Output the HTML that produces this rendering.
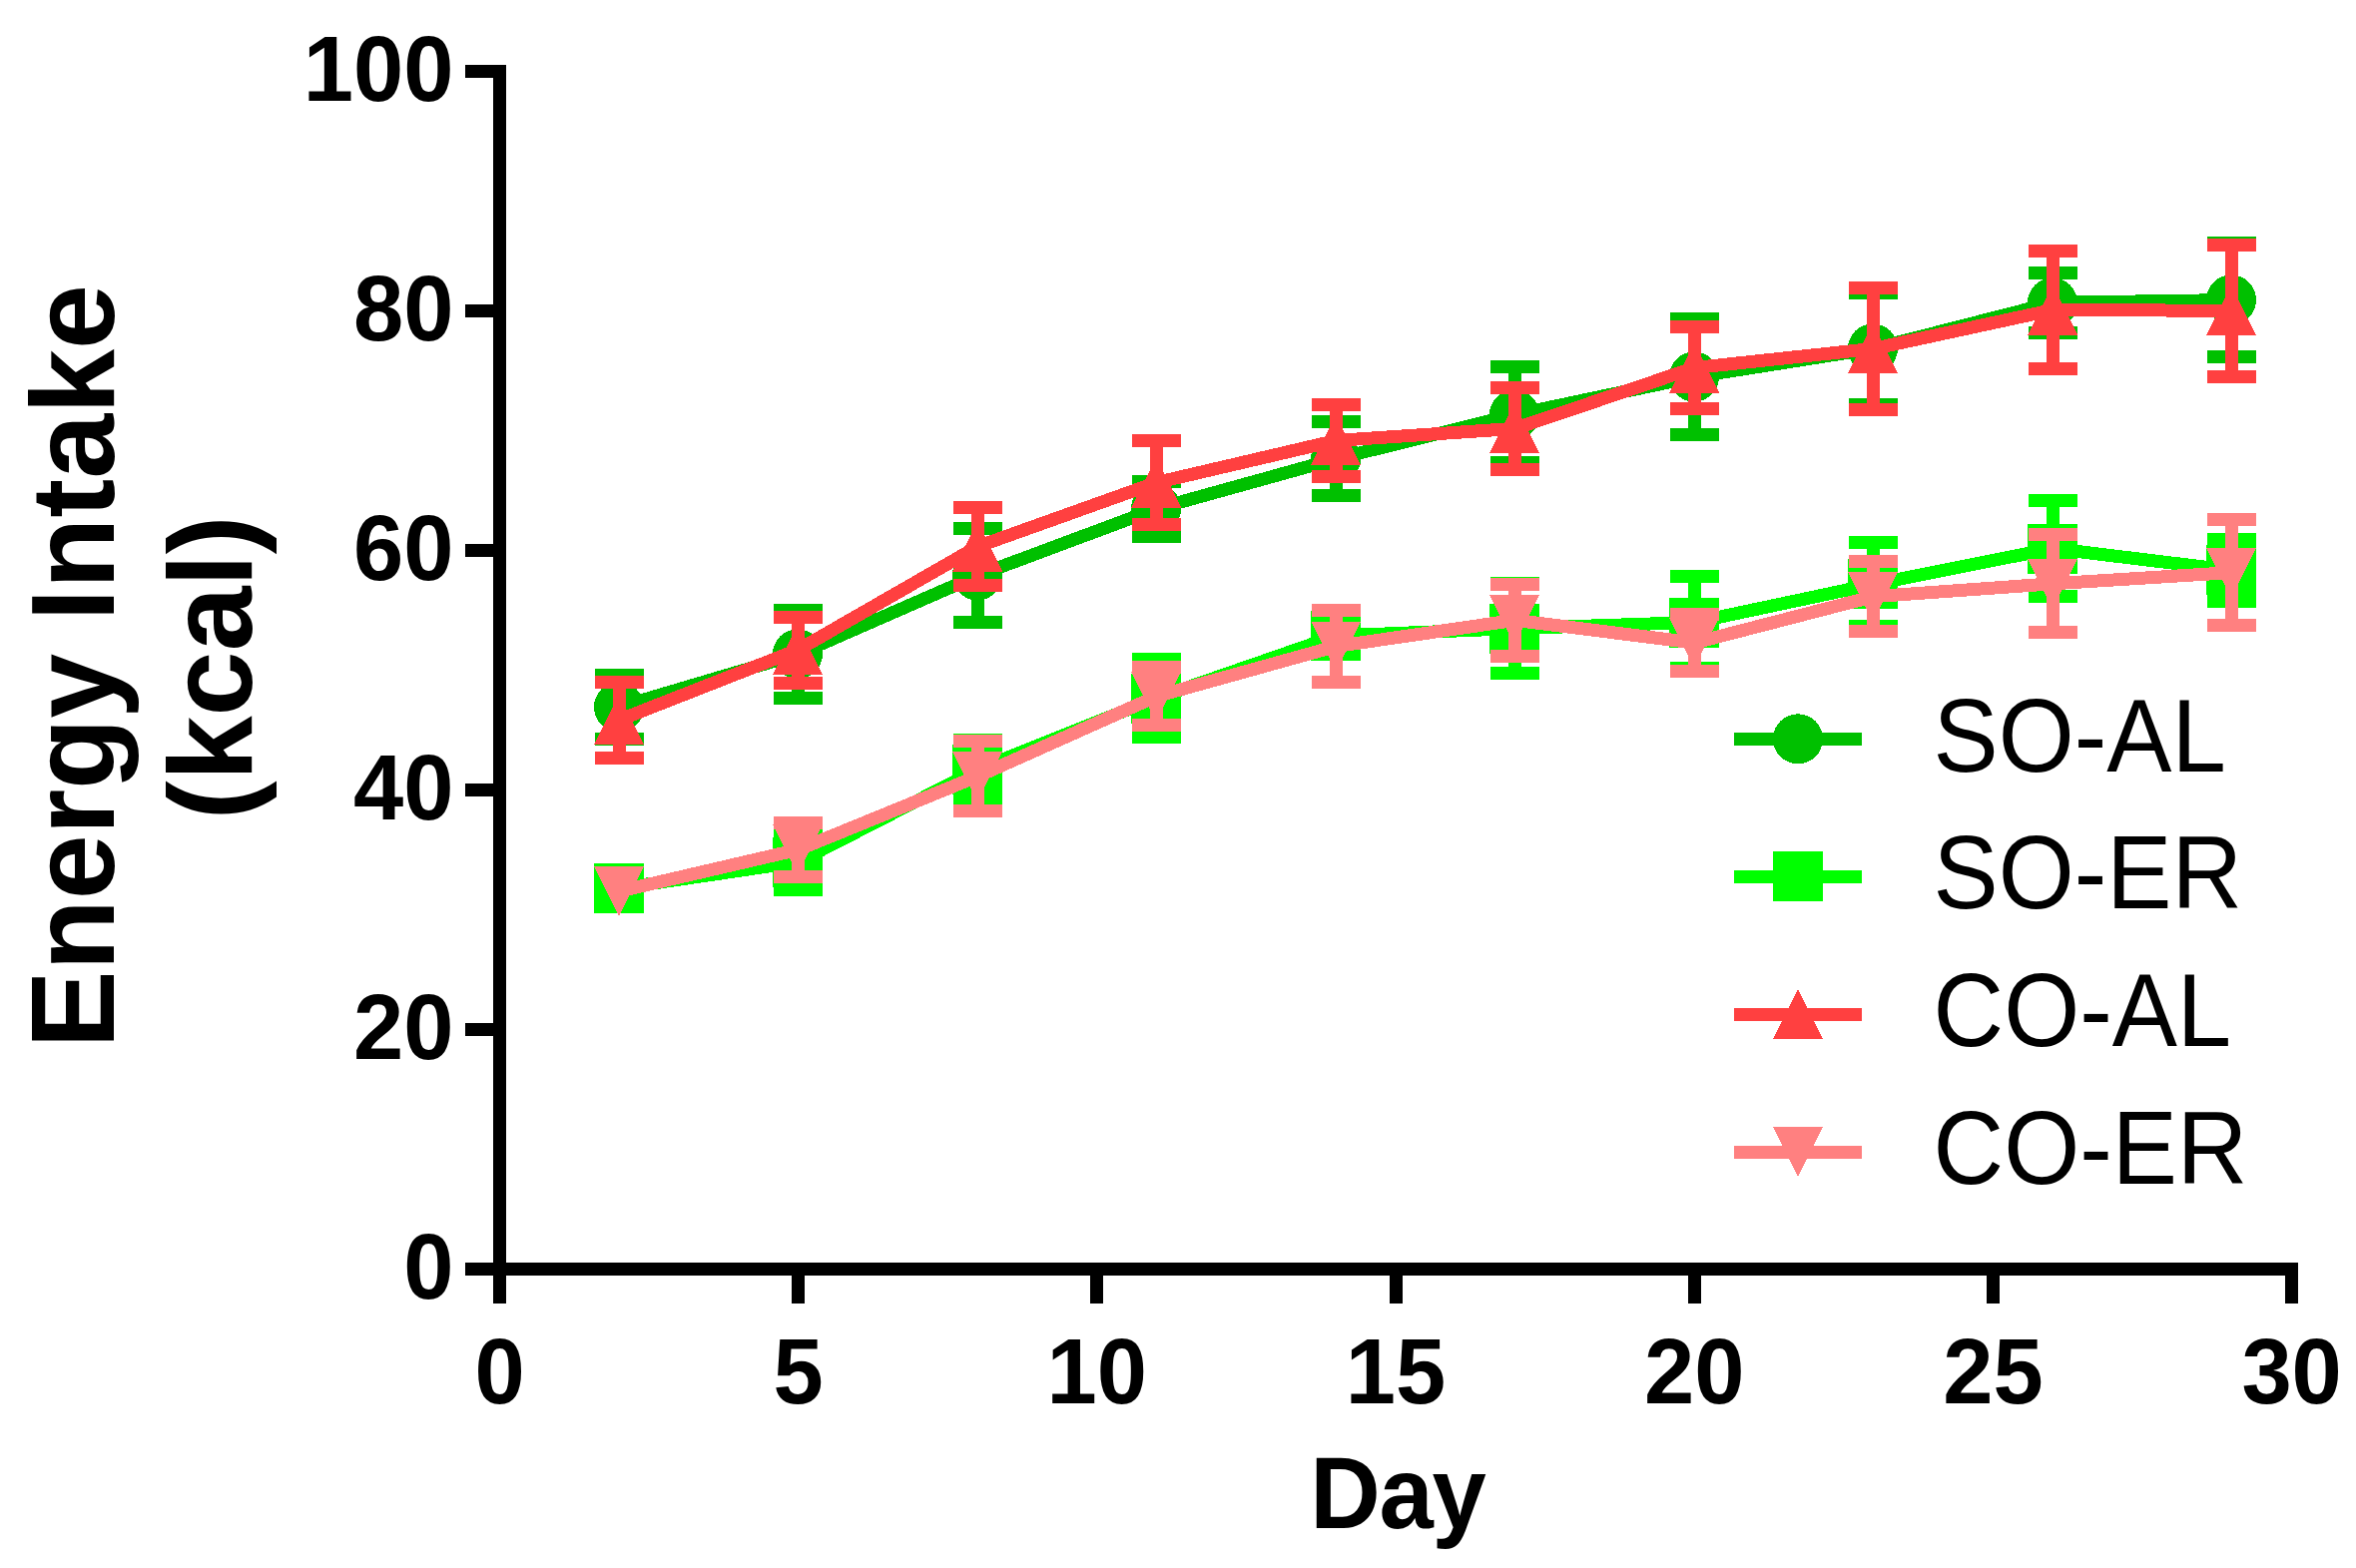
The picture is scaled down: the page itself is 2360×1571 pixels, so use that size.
<!DOCTYPE html>
<html lang="en"><head><meta charset="utf-8"><title>Energy Intake (kcal) by Day</title>
<style>
html,body{margin:0;padding:0;background:#fff;}
body{width:2360px;height:1571px;overflow:hidden;}
svg{display:block;}
text{font-family:"Liberation Sans",Arial,Helvetica,sans-serif;fill:#000;}
.b{font-weight:bold;}
.tk{font-size:90.3px;font-weight:bold;}
.ttl{font-size:116.7px;font-weight:bold;}
.xl{font-size:97.7px;font-weight:bold;letter-spacing:-1.3px;}
.lg{font-size:97.7px;font-weight:normal;}
</style></head><body>
<svg width="2360" height="1571" viewBox="0 0 2360 1571">
<rect x="0" y="0" width="2360" height="1571" fill="#ffffff"/>
<g shape-rendering="crispEdges">
<g id="SO-AL">
<rect x="614.0" y="676.5" width="13" height="63.6" fill="#00C000"/>
<rect x="596.0" y="670.0" width="49" height="13" fill="#00C000"/>
<rect x="596.0" y="733.6" width="49" height="13" fill="#00C000"/>
<rect x="793.0" y="611.3" width="13" height="88.0" fill="#00C000"/>
<rect x="775.0" y="604.8" width="49" height="13" fill="#00C000"/>
<rect x="775.0" y="692.8" width="49" height="13" fill="#00C000"/>
<rect x="973.0" y="529.4" width="13" height="94.2" fill="#00C000"/>
<rect x="955.0" y="522.9" width="49" height="13" fill="#00C000"/>
<rect x="955.0" y="617.1" width="49" height="13" fill="#00C000"/>
<rect x="1152.0" y="482.0" width="13" height="55.4" fill="#00C000"/>
<rect x="1134.0" y="475.5" width="49" height="13" fill="#00C000"/>
<rect x="1134.0" y="530.9" width="49" height="13" fill="#00C000"/>
<rect x="1332.0" y="422.8" width="13" height="73.8" fill="#00C000"/>
<rect x="1314.0" y="416.3" width="49" height="13" fill="#00C000"/>
<rect x="1314.0" y="490.1" width="49" height="13" fill="#00C000"/>
<rect x="1511.0" y="367.3" width="13" height="96.4" fill="#00C000"/>
<rect x="1493.0" y="360.8" width="49" height="13" fill="#00C000"/>
<rect x="1493.0" y="457.2" width="49" height="13" fill="#00C000"/>
<rect x="1691.0" y="319.5" width="13" height="116.0" fill="#00C000"/>
<rect x="1673.0" y="313.0" width="49" height="13" fill="#00C000"/>
<rect x="1673.0" y="429.0" width="49" height="13" fill="#00C000"/>
<rect x="1870.0" y="293.0" width="13" height="112.6" fill="#00C000"/>
<rect x="1852.0" y="286.5" width="49" height="13" fill="#00C000"/>
<rect x="1852.0" y="399.1" width="49" height="13" fill="#00C000"/>
<rect x="2050.0" y="273.4" width="13" height="59.8" fill="#00C000"/>
<rect x="2032.0" y="266.9" width="49" height="13" fill="#00C000"/>
<rect x="2032.0" y="326.7" width="49" height="13" fill="#00C000"/>
<rect x="2229.0" y="243.5" width="13" height="114.0" fill="#00C000"/>
<rect x="2211.0" y="237.0" width="49" height="13" fill="#00C000"/>
<rect x="2211.0" y="351.0" width="49" height="13" fill="#00C000"/>
<polyline points="620.5,708.3 799.5,655.3 979.5,576.5 1158.5,509.7 1338.5,459.7 1517.5,415.5 1697.5,377.5 1876.5,349.3 2056.5,303.3 2235.5,300.5" fill="none" stroke="#00C000" stroke-width="13" stroke-linejoin="round" stroke-linecap="butt"/>
<circle cx="620.0" cy="708.3" r="25" fill="#00C000"/>
<circle cx="799.0" cy="655.3" r="25" fill="#00C000"/>
<circle cx="979.0" cy="576.5" r="25" fill="#00C000"/>
<circle cx="1158.0" cy="509.7" r="25" fill="#00C000"/>
<circle cx="1338.0" cy="459.7" r="25" fill="#00C000"/>
<circle cx="1517.0" cy="415.5" r="25" fill="#00C000"/>
<circle cx="1697.0" cy="377.5" r="25" fill="#00C000"/>
<circle cx="1876.0" cy="349.3" r="25" fill="#00C000"/>
<circle cx="2056.0" cy="303.3" r="25" fill="#00C000"/>
<circle cx="2235.0" cy="300.5" r="25" fill="#00C000"/>
</g>
<g id="SO-ER">
<rect x="793.0" y="836.0" width="13" height="55.2" fill="#00FF00"/>
<rect x="775.0" y="829.5" width="49" height="13" fill="#00FF00"/>
<rect x="775.0" y="884.7" width="49" height="13" fill="#00FF00"/>
<rect x="973.0" y="741.4" width="13" height="59.2" fill="#00FF00"/>
<rect x="955.0" y="734.9" width="49" height="13" fill="#00FF00"/>
<rect x="955.0" y="794.1" width="49" height="13" fill="#00FF00"/>
<rect x="1152.0" y="660.5" width="13" height="78.0" fill="#00FF00"/>
<rect x="1134.0" y="654.0" width="49" height="13" fill="#00FF00"/>
<rect x="1134.0" y="732.0" width="49" height="13" fill="#00FF00"/>
<rect x="1332.0" y="619.0" width="13" height="36.0" fill="#00FF00"/>
<rect x="1314.0" y="612.5" width="49" height="13" fill="#00FF00"/>
<rect x="1314.0" y="648.5" width="49" height="13" fill="#00FF00"/>
<rect x="1511.0" y="584.6" width="13" height="90.0" fill="#00FF00"/>
<rect x="1493.0" y="578.1" width="49" height="13" fill="#00FF00"/>
<rect x="1493.0" y="668.1" width="49" height="13" fill="#00FF00"/>
<rect x="1691.0" y="577.4" width="13" height="92.2" fill="#00FF00"/>
<rect x="1673.0" y="570.9" width="49" height="13" fill="#00FF00"/>
<rect x="1673.0" y="663.1" width="49" height="13" fill="#00FF00"/>
<rect x="1870.0" y="543.3" width="13" height="84.2" fill="#00FF00"/>
<rect x="1852.0" y="536.8" width="49" height="13" fill="#00FF00"/>
<rect x="1852.0" y="621.0" width="49" height="13" fill="#00FF00"/>
<rect x="2050.0" y="501.5" width="13" height="96.0" fill="#00FF00"/>
<rect x="2032.0" y="495.0" width="49" height="13" fill="#00FF00"/>
<rect x="2032.0" y="591.0" width="49" height="13" fill="#00FF00"/>
<rect x="2229.0" y="540.4" width="13" height="62.0" fill="#00FF00"/>
<rect x="2211.0" y="533.9" width="49" height="13" fill="#00FF00"/>
<rect x="2211.0" y="595.9" width="49" height="13" fill="#00FF00"/>
<polyline points="620.5,890.0 799.5,863.6 979.5,771.0 1158.5,699.5 1338.5,637.0 1517.5,629.6 1697.5,623.5 1876.5,585.4 2056.5,549.5 2235.5,571.4" fill="none" stroke="#00FF00" stroke-width="13" stroke-linejoin="round" stroke-linecap="butt"/>
<rect x="595.0" y="865.0" width="50" height="50" fill="#00FF00"/>
<rect x="774.0" y="838.6" width="50" height="50" fill="#00FF00"/>
<rect x="954.0" y="746.0" width="50" height="50" fill="#00FF00"/>
<rect x="1133.0" y="674.5" width="50" height="50" fill="#00FF00"/>
<rect x="1313.0" y="612.0" width="50" height="50" fill="#00FF00"/>
<rect x="1492.0" y="604.6" width="50" height="50" fill="#00FF00"/>
<rect x="1672.0" y="598.5" width="50" height="50" fill="#00FF00"/>
<rect x="1851.0" y="560.4" width="50" height="50" fill="#00FF00"/>
<rect x="2031.0" y="524.5" width="50" height="50" fill="#00FF00"/>
<rect x="2210.0" y="546.4" width="50" height="50" fill="#00FF00"/>
</g>
<g id="CO-AL">
<rect x="614.0" y="683.3" width="13" height="75.8" fill="#FF4040"/>
<rect x="596.0" y="676.8" width="49" height="13" fill="#FF4040"/>
<rect x="596.0" y="752.6" width="49" height="13" fill="#FF4040"/>
<rect x="793.0" y="618.0" width="13" height="66.0" fill="#FF4040"/>
<rect x="775.0" y="611.5" width="49" height="13" fill="#FF4040"/>
<rect x="775.0" y="677.5" width="49" height="13" fill="#FF4040"/>
<rect x="973.0" y="508.5" width="13" height="78.0" fill="#FF4040"/>
<rect x="955.0" y="502.0" width="49" height="13" fill="#FF4040"/>
<rect x="955.0" y="580.0" width="49" height="13" fill="#FF4040"/>
<rect x="1152.0" y="441.5" width="13" height="84.0" fill="#FF4040"/>
<rect x="1134.0" y="435.0" width="49" height="13" fill="#FF4040"/>
<rect x="1134.0" y="519.0" width="49" height="13" fill="#FF4040"/>
<rect x="1332.0" y="405.4" width="13" height="72.0" fill="#FF4040"/>
<rect x="1314.0" y="398.9" width="49" height="13" fill="#FF4040"/>
<rect x="1314.0" y="470.9" width="49" height="13" fill="#FF4040"/>
<rect x="1511.0" y="388.4" width="13" height="82.0" fill="#FF4040"/>
<rect x="1493.0" y="381.9" width="49" height="13" fill="#FF4040"/>
<rect x="1493.0" y="463.9" width="49" height="13" fill="#FF4040"/>
<rect x="1691.0" y="327.6" width="13" height="81.8" fill="#FF4040"/>
<rect x="1673.0" y="321.1" width="49" height="13" fill="#FF4040"/>
<rect x="1673.0" y="402.9" width="49" height="13" fill="#FF4040"/>
<rect x="1870.0" y="288.4" width="13" height="122.0" fill="#FF4040"/>
<rect x="1852.0" y="281.9" width="49" height="13" fill="#FF4040"/>
<rect x="1852.0" y="403.9" width="49" height="13" fill="#FF4040"/>
<rect x="2050.0" y="251.5" width="13" height="118.0" fill="#FF4040"/>
<rect x="2032.0" y="245.0" width="49" height="13" fill="#FF4040"/>
<rect x="2032.0" y="363.0" width="49" height="13" fill="#FF4040"/>
<rect x="2229.0" y="245.2" width="13" height="132.2" fill="#FF4040"/>
<rect x="2211.0" y="238.7" width="49" height="13" fill="#FF4040"/>
<rect x="2211.0" y="370.9" width="49" height="13" fill="#FF4040"/>
<polyline points="620.5,721.2 799.5,651.0 979.5,547.5 1158.5,483.5 1338.5,441.4 1517.5,429.4 1697.5,368.5 1876.5,349.4 2056.5,310.5 2235.5,311.3" fill="none" stroke="#FF4040" stroke-width="13" stroke-linejoin="round" stroke-linecap="butt"/>
<polygon points="620.0,696.2 645.0,746.2 595.0,746.2" fill="#FF4040"/>
<polygon points="799.0,626.0 824.0,676.0 774.0,676.0" fill="#FF4040"/>
<polygon points="979.0,522.5 1004.0,572.5 954.0,572.5" fill="#FF4040"/>
<polygon points="1158.0,458.5 1183.0,508.5 1133.0,508.5" fill="#FF4040"/>
<polygon points="1338.0,416.4 1363.0,466.4 1313.0,466.4" fill="#FF4040"/>
<polygon points="1517.0,404.4 1542.0,454.4 1492.0,454.4" fill="#FF4040"/>
<polygon points="1697.0,343.5 1722.0,393.5 1672.0,393.5" fill="#FF4040"/>
<polygon points="1876.0,324.4 1901.0,374.4 1851.0,374.4" fill="#FF4040"/>
<polygon points="2056.0,285.5 2081.0,335.5 2031.0,335.5" fill="#FF4040"/>
<polygon points="2235.0,286.3 2260.0,336.3 2210.0,336.3" fill="#FF4040"/>
</g>
<g id="CO-ER">
<rect x="793.0" y="824.4" width="13" height="53.8" fill="#FF8080"/>
<rect x="775.0" y="817.9" width="49" height="13" fill="#FF8080"/>
<rect x="775.0" y="871.7" width="49" height="13" fill="#FF8080"/>
<rect x="973.0" y="742.7" width="13" height="70.0" fill="#FF8080"/>
<rect x="955.0" y="736.2" width="49" height="13" fill="#FF8080"/>
<rect x="955.0" y="806.2" width="49" height="13" fill="#FF8080"/>
<rect x="1152.0" y="668.6" width="13" height="58.0" fill="#FF8080"/>
<rect x="1134.0" y="662.1" width="49" height="13" fill="#FF8080"/>
<rect x="1134.0" y="720.1" width="49" height="13" fill="#FF8080"/>
<rect x="1332.0" y="611.5" width="13" height="72.0" fill="#FF8080"/>
<rect x="1314.0" y="605.0" width="49" height="13" fill="#FF8080"/>
<rect x="1314.0" y="677.0" width="49" height="13" fill="#FF8080"/>
<rect x="1511.0" y="585.4" width="13" height="72.1" fill="#FF8080"/>
<rect x="1493.0" y="578.9" width="49" height="13" fill="#FF8080"/>
<rect x="1493.0" y="650.9" width="49" height="13" fill="#FF8080"/>
<rect x="1691.0" y="615.2" width="13" height="57.6" fill="#FF8080"/>
<rect x="1673.0" y="608.7" width="49" height="13" fill="#FF8080"/>
<rect x="1673.0" y="666.3" width="49" height="13" fill="#FF8080"/>
<rect x="1870.0" y="562.7" width="13" height="70.0" fill="#FF8080"/>
<rect x="1852.0" y="556.2" width="49" height="13" fill="#FF8080"/>
<rect x="1852.0" y="626.2" width="49" height="13" fill="#FF8080"/>
<rect x="2050.0" y="535.8" width="13" height="98.0" fill="#FF8080"/>
<rect x="2032.0" y="529.3" width="49" height="13" fill="#FF8080"/>
<rect x="2032.0" y="627.3" width="49" height="13" fill="#FF8080"/>
<rect x="2229.0" y="520.6" width="13" height="106.0" fill="#FF8080"/>
<rect x="2211.0" y="514.1" width="49" height="13" fill="#FF8080"/>
<rect x="2211.0" y="620.1" width="49" height="13" fill="#FF8080"/>
<polyline points="620.5,892.9 799.5,851.3 979.5,777.7 1158.5,697.6 1338.5,647.5 1517.5,621.4 1697.5,644.0 1876.5,597.7 2056.5,584.8 2235.5,573.6" fill="none" stroke="#FF8080" stroke-width="13" stroke-linejoin="round" stroke-linecap="butt"/>
<polygon points="595.0,867.9 645.0,867.9 620.0,917.9" fill="#FF8080"/>
<polygon points="774.0,826.3 824.0,826.3 799.0,876.3" fill="#FF8080"/>
<polygon points="954.0,752.7 1004.0,752.7 979.0,802.7" fill="#FF8080"/>
<polygon points="1133.0,672.6 1183.0,672.6 1158.0,722.6" fill="#FF8080"/>
<polygon points="1313.0,622.5 1363.0,622.5 1338.0,672.5" fill="#FF8080"/>
<polygon points="1492.0,596.4 1542.0,596.4 1517.0,646.4" fill="#FF8080"/>
<polygon points="1672.0,619.0 1722.0,619.0 1697.0,669.0" fill="#FF8080"/>
<polygon points="1851.0,572.7 1901.0,572.7 1876.0,622.7" fill="#FF8080"/>
<polygon points="2031.0,559.8 2081.0,559.8 2056.0,609.8" fill="#FF8080"/>
<polygon points="2210.0,548.6 2260.0,548.6 2235.0,598.6" fill="#FF8080"/>
</g>
</g>
<g fill="#000" shape-rendering="crispEdges">
<rect x="494" y="65" width="13" height="1241"/>
<rect x="466" y="1265" width="1836" height="13"/>
<rect x="466" y="1025.0" width="28" height="13"/>
<rect x="466" y="785.0" width="28" height="13"/>
<rect x="466" y="545.0" width="28" height="13"/>
<rect x="466" y="305.0" width="28" height="13"/>
<rect x="466" y="65.0" width="28" height="13"/>
<rect x="793.2" y="1278" width="13" height="28"/>
<rect x="1092.3" y="1278" width="13" height="28"/>
<rect x="1391.5" y="1278" width="13" height="28"/>
<rect x="1690.7" y="1278" width="13" height="28"/>
<rect x="1989.9" y="1278" width="13" height="28"/>
<rect x="2289.1" y="1278" width="13" height="28"/>
</g>
<text class="tk" text-anchor="end" transform="translate(454.5,1301.3) scale(1,1.03)">0</text>
<text class="tk" text-anchor="end" transform="translate(454.5,1061.3) scale(1,1.03)">20</text>
<text class="tk" text-anchor="end" transform="translate(454.5,821.3) scale(1,1.03)">40</text>
<text class="tk" text-anchor="end" transform="translate(454.5,581.3) scale(1,1.03)">60</text>
<text class="tk" text-anchor="end" transform="translate(454.5,341.3) scale(1,1.03)">80</text>
<text class="tk" text-anchor="end" transform="translate(454.5,101.3) scale(1,1.03)">100</text>
<text class="tk" text-anchor="middle" transform="translate(500.5,1405.8) scale(1,1.03)">0</text>
<text class="tk" text-anchor="middle" transform="translate(799.7,1405.8) scale(1,1.03)">5</text>
<text class="tk" text-anchor="middle" transform="translate(1098.8,1405.8) scale(1,1.03)">10</text>
<text class="tk" text-anchor="middle" transform="translate(1398.0,1405.8) scale(1,1.03)">15</text>
<text class="tk" text-anchor="middle" transform="translate(1697.2,1405.8) scale(1,1.03)">20</text>
<text class="tk" text-anchor="middle" transform="translate(1996.4,1405.8) scale(1,1.03)">25</text>
<text class="tk" text-anchor="middle" transform="translate(2295.6,1405.8) scale(1,1.03)">30</text>
<text class="xl" text-anchor="start" transform="translate(1312.3,1530.7) scale(1,1.035)">Day</text>
<text class="ttl" text-anchor="middle" transform="translate(113.8,667.7) rotate(-90) scale(1,1.012)">Energy Intake</text>
<text class="ttl" text-anchor="middle" transform="translate(252.1,668.8) rotate(-90) scale(1,1.012)">(kcal)</text>
<g shape-rendering="crispEdges">
<rect x="1737" y="733.8" width="128" height="13" fill="#00C000"/>
<circle cx="1801.0" cy="740.3" r="25" fill="#00C000"/>
<rect x="1737" y="871.8" width="128" height="13" fill="#00FF00"/>
<rect x="1776.0" y="853.3" width="50" height="50" fill="#00FF00"/>
<rect x="1737" y="1009.8" width="128" height="13" fill="#FF4040"/>
<polygon points="1801.0,990.7 1826.0,1040.7 1776.0,1040.7" fill="#FF4040"/>
<rect x="1737" y="1148.1" width="128" height="13" fill="#FF8080"/>
<polygon points="1776.0,1129.0 1826.0,1129.0 1801.0,1179.0" fill="#FF8080"/>
</g>
<text class="lg" text-anchor="start" transform="translate(1936.6,772.6) scale(1,1.056)">SO-AL</text>
<text class="lg" text-anchor="start" transform="translate(1936.6,910.4) scale(1,1.056)">SO-ER</text>
<text class="lg" text-anchor="start" transform="translate(1936.6,1048.1) scale(1,1.056)">CO-AL</text>
<text class="lg" text-anchor="start" transform="translate(1936.6,1185.8) scale(1,1.056)">CO-ER</text>
</svg></body></html>
